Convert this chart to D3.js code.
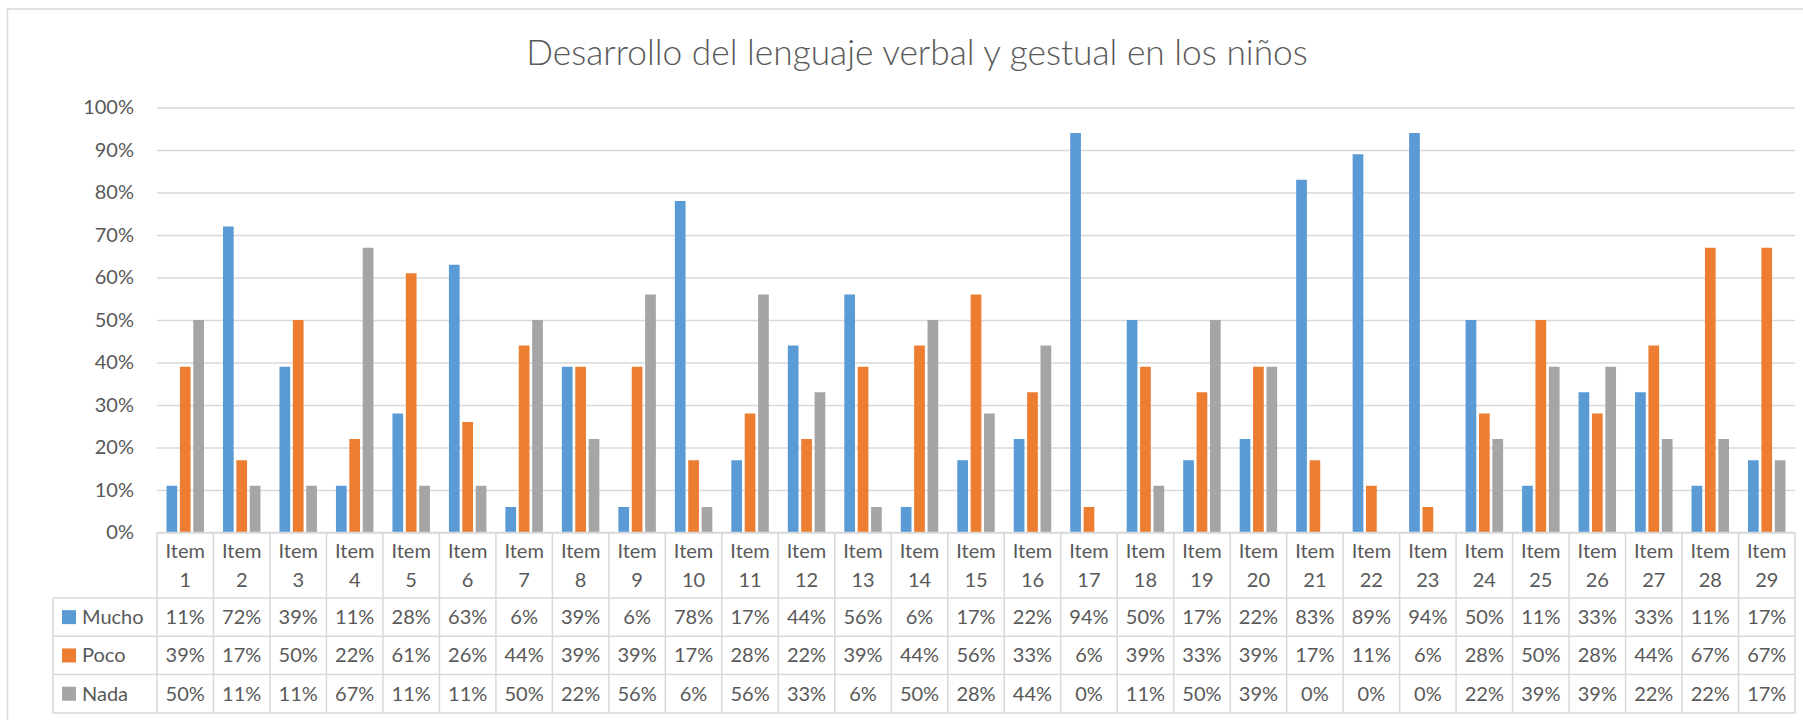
<!DOCTYPE html>
<html lang="es">
<head>
  <meta charset="UTF-8">
  <title>Desarrollo del lenguaje verbal y gestual en los niños</title>
  <script src="https://d3js.org/d3.v7.min.js"></script>
  <style>
    body { margin: 0; background: #fff; }
    svg { display: block; font-family: Lato, "Liberation Sans", sans-serif; }
  </style>
</head>
<body>
  <svg id="chart" width="1803" height="720"></svg>
  <script>
    // Data
    const items = d3.range(1, 30).map(i => "Item " + i);
    const seriesNames = ["Mucho", "Poco", "Nada"];
    const mucho = [11, 72, 39, 11, 28, 63, 6, 39, 6, 78, 17, 44, 56, 6, 17, 22, 94, 50, 17, 22, 83, 89, 94, 50, 11, 33, 33, 11, 17];
    const poco  = [39, 17, 50, 22, 61, 26, 44, 39, 39, 17, 28, 22, 39, 44, 56, 33, 6, 39, 33, 39, 17, 11, 6, 28, 50, 28, 44, 67, 67];
    const nada  = [50, 11, 11, 67, 11, 11, 50, 22, 56, 6, 56, 33, 6, 50, 28, 44, 0, 11, 50, 39, 0, 0, 0, 22, 39, 39, 22, 22, 17];
    const yTicks = d3.range(0, 101, 10);
    const colors = ["#5B9BD5", "#ED7D31", "#A5A5A5"];

    const seriesValues = [mucho, poco, nada];
    const textColor = "#595959";
    const lineColor = "#D9D9D9";

    const svg = d3.select("#chart");

    // Layout
    const plotLeft = 157, plotRight = 1795;
    const plotTop = 107.5, plotBottom = 532.5;
    const tableLeft = 53;
    const rowH = 38.3;
    const headerBottom = 598;

    // chart frame
    svg.append("rect")
      .attr("x", 7.5).attr("y", 9)
      .attr("width", 1820).attr("height", 730)
      .attr("fill", "none")
      .attr("stroke", lineColor)
      .attr("stroke-width", 1.5);

    // title
    const title = svg.append("text")
      .attr("x", (526 + 1308) / 2)
      .attr("y", 65)
      .attr("text-anchor", "middle")
      .attr("fill", textColor)
      .attr("font-weight", 300)
      .attr("font-size", 32)
      .text("Desarrollo del lenguaje verbal y gestual en los niños");
    // fit to width measured on the reference
    const tw = title.node().getComputedTextLength();
    title.attr("font-size", 32 * 782 / tw);

    const x = d3.scaleBand().domain(items).range([plotLeft, plotRight]);
    const xs = d3.scaleBand().domain(seriesNames)
      .range([9.5, x.bandwidth() - 9.5]).paddingInner(0.2);
    const y = d3.scaleLinear().domain([0, 100]).range([plotBottom, plotTop]);

    // gridlines + y labels
    const yAxis = svg.append("g")
      .attr("transform", `translate(${plotLeft},0)`)
      .call(d3.axisLeft(y).tickValues(yTicks)
        .tickSize(-(plotRight - plotLeft))
        .tickPadding(23)
        .tickFormat(d => d + "%"));
    yAxis.select(".domain").remove();
    yAxis.selectAll(".tick line").attr("stroke", lineColor).attr("stroke-width", 1.5);
    yAxis.selectAll(".tick text")
      .attr("fill", textColor)
      .attr("font-size", 20)
      .attr("font-family", "Lato, sans-serif");

    // bars
    seriesNames.forEach((s, si) => {
      svg.append("g").selectAll("rect")
        .data(seriesValues[si])
        .join("rect")
        .attr("x", (d, i) => x(items[i]) + xs(s))
        .attr("y", d => y(d))
        .attr("width", xs.bandwidth())
        .attr("height", d => y(0) - y(d))
        .attr("fill", colors[si]);
    });

    // data table
    const table = svg.append("g")
      .attr("stroke", lineColor)
      .attr("stroke-width", 1.5);
    const rowYs = d3.range(4).map(i => headerBottom + i * rowH);
    const tableBottom = rowYs[3];

    // baseline / top of header
    table.append("line")
      .attr("x1", plotLeft).attr("x2", plotRight)
      .attr("y1", plotBottom).attr("y2", plotBottom);
    // row lines
    table.selectAll(".row-line")
      .data(rowYs)
      .join("line")
      .attr("x1", tableLeft).attr("x2", plotRight)
      .attr("y1", d => d).attr("y2", d => d);
    // column lines
    const colXs = items.map(d => x(d)).concat([plotRight]);
    table.selectAll(".col-line")
      .data(colXs)
      .join("line")
      .attr("x1", d => d).attr("x2", d => d)
      .attr("y1", plotBottom).attr("y2", tableBottom);
    table.append("line")
      .attr("x1", tableLeft).attr("x2", tableLeft)
      .attr("y1", headerBottom).attr("y2", tableBottom);

    // category labels, two lines
    const cat = svg.append("g")
      .attr("fill", textColor)
      .attr("font-size", 20)
      .attr("text-anchor", "middle");
    cat.selectAll("text")
      .data(items)
      .join("text")
      .attr("x", d => x(d) + x.bandwidth() / 2)
      .attr("y", 558)
      .each(function (d) {
        const parts = d.split(" ");
        d3.select(this).append("tspan").text(parts[0]);
        d3.select(this).append("tspan")
          .attr("x", x(d) + x.bandwidth() / 2)
          .attr("dy", 29)
          .text(parts[1]);
      });

    // legend column + values
    seriesNames.forEach((s, si) => {
      const cy = rowYs[si] + rowH / 2;
      svg.append("rect")
        .attr("x", 62).attr("y", cy - 7)
        .attr("width", 14).attr("height", 14)
        .attr("fill", colors[si]);
      svg.append("text")
        .attr("x", 82).attr("y", cy + 7)
        .attr("fill", textColor)
        .attr("font-size", 20)
        .text(s);
      svg.append("g").selectAll("text")
        .data(seriesValues[si])
        .join("text")
        .attr("x", (d, i) => x(items[i]) + x.bandwidth() / 2)
        .attr("y", cy + 7)
        .attr("text-anchor", "middle")
        .attr("fill", textColor)
        .attr("font-size", 20)
        .text(d => d + "%");
    });
  </script>
</body>
</html>
